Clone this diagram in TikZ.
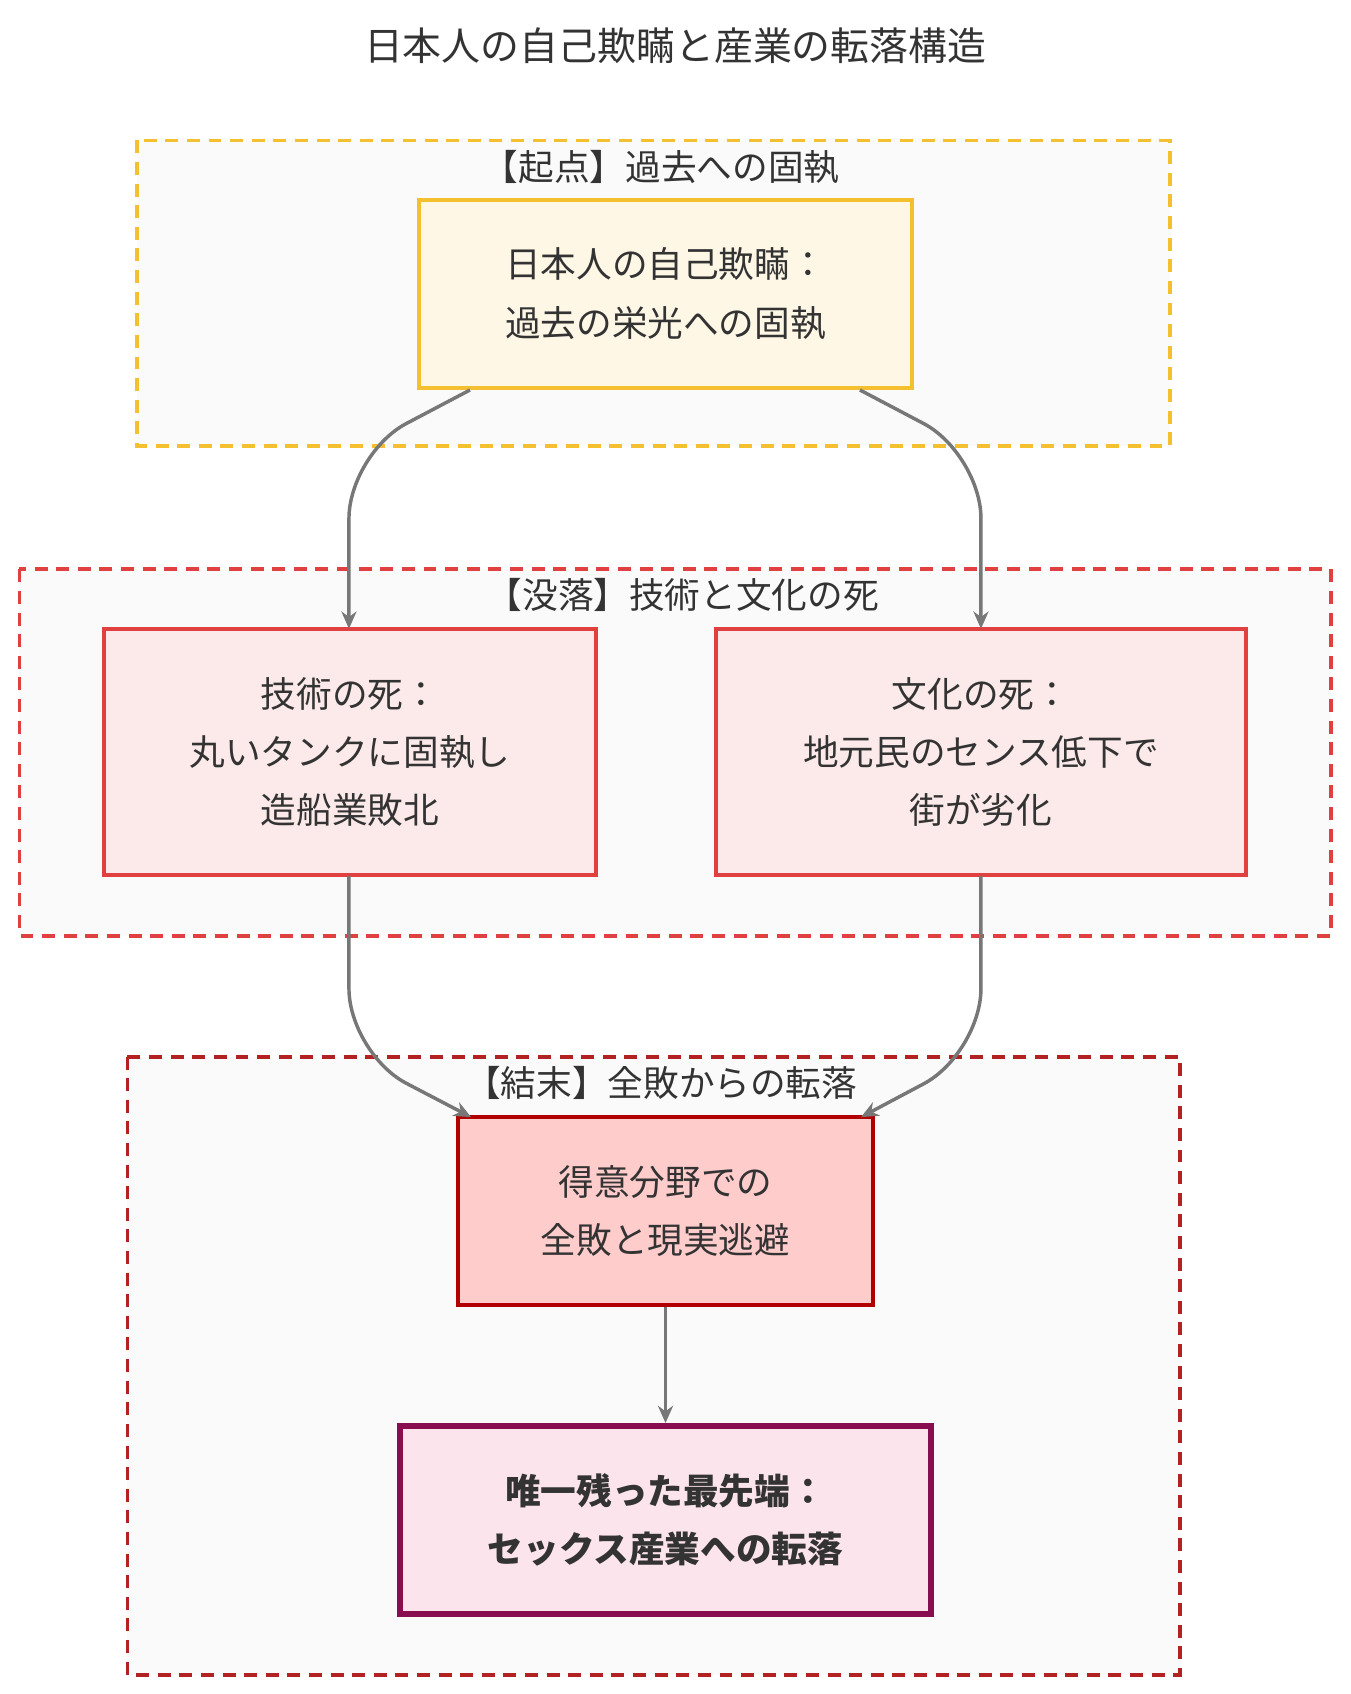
\documentclass[tikz,border=0pt]{standalone}
\usepackage{fontspec}
\setmainfont{Noto Sans CJK JP}
\usetikzlibrary{arrows.meta}
\definecolor{cy}{HTML}{F4C030}
\definecolor{cr}{HTML}{E04040}
\definecolor{cdr}{HTML}{B22222}
\definecolor{edge}{HTML}{777777}
\definecolor{cm}{HTML}{880E4F}
\definecolor{fm}{HTML}{FCE4EC}
\tikzset{
 clus/.style={draw, line width=1.8pt, dash pattern=on 6pt off 4pt, fill=black!2},
 nd/.style={draw, line width=1.8pt, align=center, font=\fontsize{16.5}{27}\selectfont, text=black!80, inner sep=0pt},
 lab/.style={font=\fontsize{16.5}{18}\selectfont, text=black!80},
 ar/.style={draw=edge, line width=1.6pt, -{Stealth[length=8pt,width=7pt]}, rounded corners=30pt}
}
\begin{document}
\begin{tikzpicture}[x=0.5pt,y=-0.5pt]
\useasboundingbox (0,0) rectangle (1250,1568);
\node[font=\fontsize{18}{20}\selectfont, text=black!80] (title) at (625,42) {日本人の自己欺瞞と産業の転落構造};
\draw[clus, draw=cy] (127,130) rectangle (1083,413);
\node[lab] (l1) at (612,155) {【起点】過去への固執};
\draw[clus, draw=cr] (18,527) rectangle (1232,866);
\node[lab] (l2) at (632,551) {【没落】技術と文化の死};
\draw[clus, draw=cdr] (118,978) rectangle (1092,1550);
\node[lab] (l3) at (612,1002) {【結末】全敗からの転落};
\node[nd, draw=cy, fill=cy!12, minimum width=228pt, minimum height=87pt] (A) at (616,272) {日本人の自己欺瞞：\\過去の栄光への固執};
\node[nd, draw=cr, fill=cr!11, minimum width=228pt, minimum height=113.5pt] (B) at (324,696) {技術の死：\\丸いタンクに固執し\\造船業敗北};
\node[nd, draw=cr, fill=cr!11, minimum width=245.5pt, minimum height=113.5pt] (C) at (908,696) {文化の死：\\地元民のセンス低下で\\街が劣化};
\node[nd, fill=red!20, draw=red!70!black, minimum width=192pt, minimum height=87pt] (D) at (616,1121) {得意分野での\\全敗と現実逃避};
\node[nd, draw=cm, fill=fm, line width=2.8pt, minimum width=245.5pt, minimum height=87pt, font=\fontsize{16.5}{27}\selectfont\bfseries] (E) at (616,1407) {唯一残った最先端：\\セックス産業への転落};
\draw[ar] (435,361) -- (323,420) -- (323,582);
\draw[ar] (796,361) -- (908,420) -- (908,582);
\draw[ar] (323,811) -- (323,975) -- (436,1034);
\draw[ar] (908,811) -- (908,975) -- (797,1034);
\draw[ar] (D) -- (E);
\end{tikzpicture}
\end{document}
